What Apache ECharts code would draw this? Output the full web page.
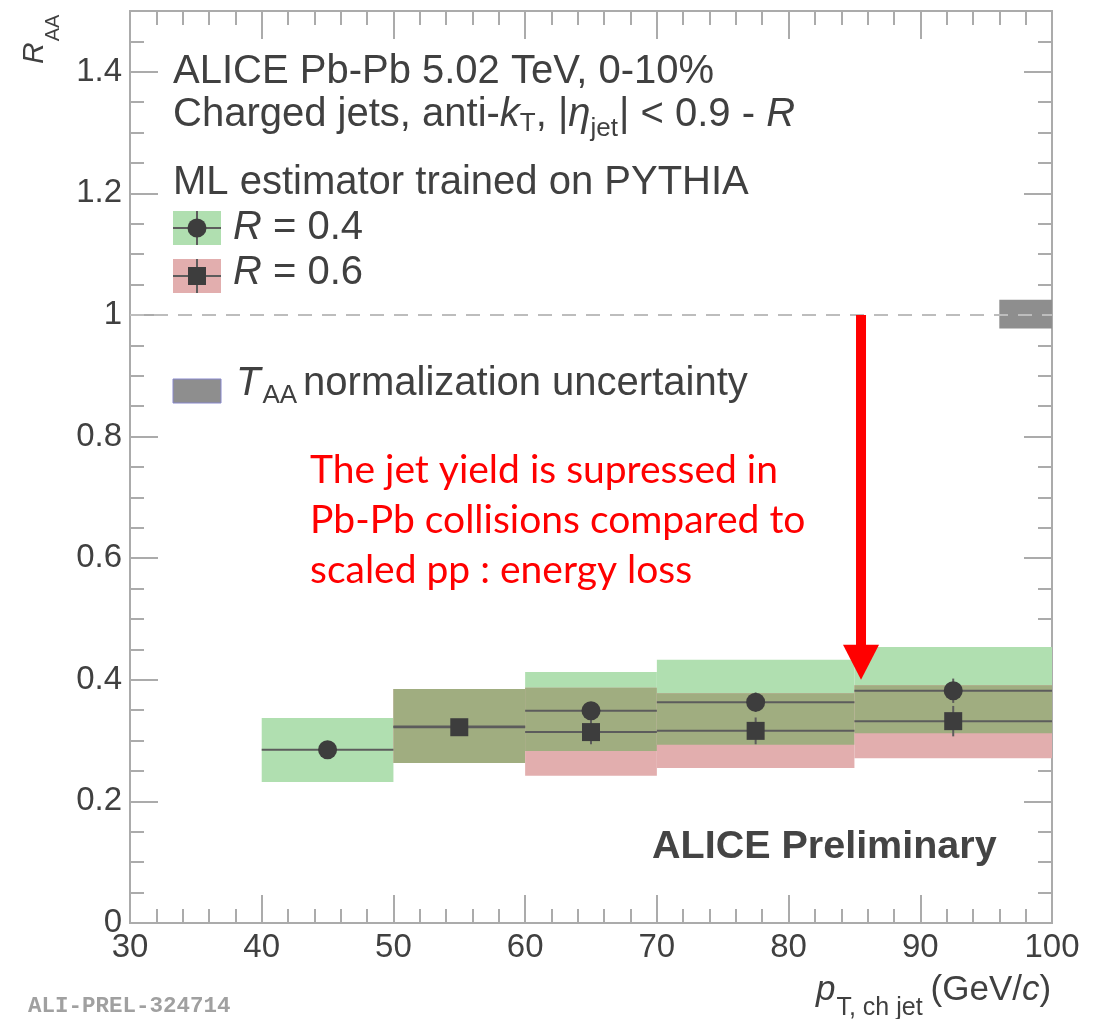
<!DOCTYPE html>
<html>
<head>
<meta charset="utf-8">
<script src="https://cdn.jsdelivr.net/npm/echarts@6/dist/echarts.min.js"></script>
<style>
html, body { margin: 0; padding: 0; background: #fff; }
#main { width: 1107px; height: 1019px; }
</style>
</head>
<body>
<div id="main"></div>
<script>
// pT bins (GeV/c)
var binLo = [40, 50, 60, 70, 85];
var binHi = [50, 60, 70, 85, 100];

// R = 0.4
var r04Val = [0.285, 0.323, 0.349, 0.363, 0.382];
var r04Stat = [0.012, 0.012, 0.013, 0.016, 0.02];
var r04SysLo = [0.232, 0.263, 0.283, 0.293, 0.312];
var r04SysHi = [0.337, 0.385, 0.413, 0.433, 0.454];

// R = 0.6 (nothing in the first bin)
var r06Val = [null, 0.322, 0.314, 0.316, 0.332];
var r06Stat = [null, 0.012, 0.02, 0.022, 0.025];
var r06SysLo = [null, 0.263, 0.242, 0.255, 0.271];
var r06SysHi = [null, 0.385, 0.387, 0.378, 0.391];

// TAA normalization uncertainty box
var taaX = [96, 100];
var taaY = [0.978, 1.025];

// red arrow
var arrowX = [85.5];
var arrowFrom = [1.0];
var arrowTo = [0.40];

var GREEN = '#b0dfb0';
var RED = '#e2aeae';
var OLIVE = '#a0ad80';
var MARK = '#3d3d3d';
var BAR = '#5c5c5c';
var FRAME = '#ababab';
var TXT = '#404040';
var SANS = "'Liberation Sans', Arial, sans-serif";
var HS = 40; // header font size

var chart = echarts.init(document.getElementById('main'));

//文字宽度
var ctx = document.createElement('canvas').getContext('2d');
function fontStr(p) {
    return (p.italic ? 'italic ' : '') + (p.bold ? 'bold ' : '') + p.size + 'px ' + (p.family || SANS);
}
function textRow(x, y, parts, color) {
    var out = [];
    var cx = x;
    parts.forEach(function (p) {
        ctx.font = fontStr(p);
        out.push({
            type: 'text', x: cx, y: y + (p.dy || 0), z: 100,
            style: {
                text: p.t, font: fontStr(p), fill: p.color || color,
                textAlign: 'left', align: 'left',
                textVerticalAlign: 'middle', verticalAlign: 'middle'
            }
        });
        cx += ctx.measureText(p.t).width + (p.gap || 0);
    });
    return out;
}

//误差带
function renderBands(params, api) {
    var i = params.dataIndex;
    var kids = [];
    function box(y0, y1, color) {
        var p0 = api.coord([binLo[i], y1]);
        var p1 = api.coord([binHi[i], y0]);
        kids.push({
            type: 'rect',
            shape: { x: p0[0], y: p0[1], width: p1[0] - p0[0], height: p1[1] - p0[1] },
            style: { fill: color }
        });
    }
    box(r04SysLo[i], r04SysHi[i], GREEN);
    if (r06Val[i] != null) {
        box(r06SysLo[i], r06SysHi[i], RED);
        var lo = Math.max(r04SysLo[i], r06SysLo[i]);
        var hi = Math.min(r04SysHi[i], r06SysHi[i]);
        if (hi > lo) box(lo, hi, OLIVE);
    }
    return { type: 'group', children: kids };
}

//误差线
function renderBars(params, api) {
    var i = params.dataIndex;
    var kids = [];
    function bars(v, s) {
        if (v == null) return;
        var a = api.coord([binLo[i], v]);
        var b = api.coord([binHi[i], v]);
        var xc = (binLo[i] + binHi[i]) / 2;
        var c = api.coord([xc, v - s]);
        var d = api.coord([xc, v + s]);
        var st = { stroke: BAR, lineWidth: 2 };
        kids.push({ type: 'line', shape: { x1: a[0], y1: a[1], x2: b[0], y2: b[1] }, style: st });
        kids.push({ type: 'line', shape: { x1: c[0], y1: c[1], x2: d[0], y2: d[1] }, style: st });
    }
    bars(r04Val[i], r04Stat[i]);
    bars(r06Val[i], r06Stat[i]);
    return { type: 'group', children: kids };
}

function renderTaa(params, api) {
    var p0 = api.coord([taaX[0], taaY[1]]);
    var p1 = api.coord([taaX[1], taaY[0]]);
    return {
        type: 'rect',
        shape: { x: p0[0], y: p0[1], width: p1[0] - p0[0], height: p1[1] - p0[1] },
        style: { fill: '#8e8e8e' }
    };
}

function renderArrow(params, api) {
    var i = params.dataIndex;
    var top = api.coord([arrowX[i], arrowFrom[i]]);
    var tip = api.coord([arrowX[i], arrowTo[i]]);
    var headH = 35, headW = 36, shaftW = 10;
    return {
        type: 'group',
        children: [
            { type: 'rect', shape: { x: top[0] - shaftW / 2, y: top[1], width: shaftW, height: tip[1] - headH - top[1] + 1 }, style: { fill: '#ff0000' } },
            { type: 'polygon', shape: { points: [[tip[0] - headW / 2, tip[1] - headH], [tip[0] + headW / 2, tip[1] - headH], [tip[0], tip[1]]] }, style: { fill: '#ff0000' } }
        ]
    };
}

var binIdx = binLo.map(function (v, i) { return [binLo[i], binHi[i]]; });
var pts04 = binLo.map(function (v, i) { return [(binLo[i] + binHi[i]) / 2, r04Val[i]]; });
var pts06 = [];
binLo.forEach(function (v, i) {
    if (r06Val[i] != null) pts06.push([(binLo[i] + binHi[i]) / 2, r06Val[i]]);
});

var lineSt = { color: FRAME, width: 2 };
function xAxisCfg(pos, labels) {
    return {
        type: 'value', position: pos, min: 30, max: 100, interval: 10,
        axisLine: { show: true, onZero: false, lineStyle: lineSt },
        axisTick: { show: true, inside: true, length: 28, lineStyle: lineSt },
        minorTick: { show: true, splitNumber: 5, length: 14, lineStyle: lineSt },
        splitLine: { show: false },
        axisLabel: { show: labels, margin: 8, fontSize: 33, color: TXT, fontFamily: SANS }
    };
}
function yAxisCfg(pos, step, len, labels) {
    return {
        type: 'value', position: pos, min: 0, max: 1.5, interval: step,
        axisLine: { show: true, onZero: false, lineStyle: lineSt },
        axisTick: { show: true, inside: true, length: len, lineStyle: lineSt },
        splitLine: { show: false },
        axisLabel: {
            show: labels, margin: 8, fontSize: 33, color: TXT, fontFamily: SANS,
            formatter: function (v) { return v > 1.45 ? '' : String(Math.round(v * 10) / 10); }
        }
    };
}

// 图例和注释
var graphics = [];
graphics = graphics.concat(textRow(173, 72, [{ t: 'ALICE Pb-Pb 5.02 TeV, 0-10%', size: HS }], TXT));
graphics = graphics.concat(textRow(173, 115, [
    { t: 'Charged jets, anti-', size: HS },
    { t: 'k', size: HS, italic: true },
    { t: 'T', size: 26, dy: 9 },
    { t: ', |', size: HS },
    { t: '\u03b7', size: HS, italic: true },
    { t: 'jet', size: 26, dy: 14, gap: 1 },
    { t: '| < 0.9 - ', size: HS },
    { t: 'R', size: HS, italic: true }
], TXT));
graphics = graphics.concat(textRow(173, 183, [{ t: 'ML estimator trained on PYTHIA', size: HS }], TXT));

function legendBox(y, fill, sym) {
    var kids = [
        { type: 'rect', shape: { x: 173, y: y - 17, width: 48, height: 34 }, style: { fill: fill } },
        { type: 'line', shape: { x1: 173, y1: y, x2: 221, y2: y }, style: { stroke: BAR, lineWidth: 2 } },
        { type: 'line', shape: { x1: 197, y1: y - 17, x2: 197, y2: y + 17 }, style: { stroke: BAR, lineWidth: 2 } }
    ];
    if (sym === 'circle') kids.push({ type: 'circle', shape: { cx: 197, cy: y, r: 9.5 }, style: { fill: MARK } });
    else kids.push({ type: 'rect', shape: { x: 188, y: y - 9, width: 18, height: 18 }, style: { fill: MARK } });
    return { type: 'group', z: 100, children: kids };
}
graphics.push(legendBox(228, GREEN, 'circle'));
graphics.push(legendBox(276, RED, 'rect'));
graphics = graphics.concat(textRow(233, 228, [{ t: 'R', size: HS, italic: true }, { t: ' = 0.4', size: HS }], TXT));
graphics = graphics.concat(textRow(233, 273, [{ t: 'R', size: HS, italic: true }, { t: ' = 0.6', size: HS }], TXT));

graphics.push({ type: 'rect', z: 100, shape: { x: 173, y: 379, width: 48, height: 24 }, style: { fill: '#8e8e8e', stroke: '#8888cc', lineWidth: 1 } });
graphics = graphics.concat(textRow(236, 384, [
    { t: 'T', size: HS, italic: true, gap: 2 },
    { t: 'AA', size: 26, dy: 12, gap: 6 },
    { t: 'normalization uncertainty', size: HS }
], TXT));

graphics = graphics.concat(textRow(652, 847, [{ t: 'ALICE Preliminary', size: 39.5, bold: true }], '#444'));

var redFont = "Lato, 'Open Sans', sans-serif";
graphics = graphics.concat(textRow(310, 470, [{ t: 'The jet yield is supressed in', size: 39, family: redFont }], '#ff0000'));
graphics = graphics.concat(textRow(310, 520, [{ t: 'Pb-Pb collisions compared to', size: 39, family: redFont }], '#ff0000'));
graphics = graphics.concat(textRow(310, 570, [{ t: 'scaled pp : energy loss', size: 39, family: redFont }], '#ff0000'));

// 坐标轴标题
graphics = graphics.concat(textRow(816, 990, [
    { t: 'p', size: 35, italic: true, gap: 1 },
    { t: 'T, ch jet', size: 25, dy: 18, gap: 8 },
    { t: '(GeV/', size: 35 },
    { t: 'c', size: 35, italic: true },
    { t: ')', size: 35 }
], TXT));
graphics.push({
    type: 'group', x: 35, y: 64, rotation: Math.PI / 2, z: 100,
    children: textRow(0, 0, [
        { t: 'R', size: 30, italic: true, gap: 1 },
        { t: 'AA', size: 20, dy: 18 }
    ], TXT)
});
graphics = graphics.concat(textRow(28, 1006, [{ t: 'ALI-PREL-324714', size: 22.5, bold: true, family: "'Liberation Mono', 'DejaVu Sans Mono', monospace" }], '#a0a0a0'));

var option = {
    animation: false,
    backgroundColor: '#fff',
    grid: { left: 130, right: 55, top: 11, bottom: 96 },
    xAxis: [xAxisCfg('bottom', true), xAxisCfg('top', false)],
    yAxis: [
        yAxisCfg('left', 0.2, 28, true),
        yAxisCfg('left', 0.05, 14, false),
        yAxisCfg('right', 0.2, 28, false),
        yAxisCfg('right', 0.05, 14, false)
    ],
    graphic: graphics,
    series: [
        {
            type: 'custom', name: 'bands', renderItem: renderBands, data: binIdx, z: 2,
            markLine: {
                silent: true, symbol: 'none', z: 6,
                label: { show: false },
                lineStyle: { type: [14, 10], color: '#bdbdbd', width: 2 },
                data: [{ yAxis: 1 }]
            }
        },
        { type: 'custom', name: 'taa', renderItem: renderTaa, data: [[taaX[0], taaY[0]]], z: 3 },
        { type: 'custom', name: 'bars', renderItem: renderBars, data: binIdx, z: 4 },
        { type: 'scatter', name: 'R = 0.6', data: pts06, symbol: 'rect', symbolSize: 18, itemStyle: { color: MARK, opacity: 1 }, z: 5 },
        { type: 'scatter', name: 'R = 0.4', data: pts04.filter(function (p, i) { return r06Val[i] == null || Math.abs(r06Val[i] - r04Val[i]) > 0.005; }), symbol: 'circle', symbolSize: 19, itemStyle: { color: MARK, opacity: 1 }, z: 5 },
        { type: 'custom', name: 'arrow', renderItem: renderArrow, data: [[arrowX[0], arrowTo[0]]], z: 8 }
    ]
};
chart.setOption(option);
</script>
</body>
</html>
